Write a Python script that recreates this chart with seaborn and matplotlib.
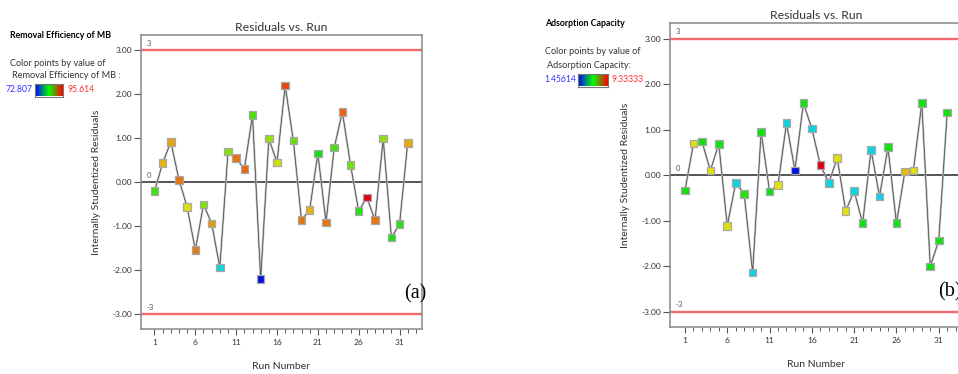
import matplotlib
matplotlib.use('Agg')
import matplotlib.pyplot as plt
from matplotlib.colors import LinearSegmentedColormap
from matplotlib.ticker import FixedLocator, FormatStrFormatter
import seaborn as sns
import numpy as np
import pandas as pd

sns.set_theme(style='white')
plt.rcParams['font.family'] = ['Lato', 'DejaVu Sans']

runs = list(range(1, 33))

# panel (a): removal efficiency of MB
resid_a = [-0.20, 0.44, 0.92, 0.06, -0.56, -1.54, -0.50, -0.93, -1.93, 0.70,
           0.55, 0.30, 1.53, -2.20, 1.00, 0.45, 2.20, 0.95, -0.86, -0.62,
           0.66, -0.91, 0.79, 1.60, 0.40, -0.65, -0.34, -0.86, 1.00, -1.25,
           -0.95, 0.90]
resp_a = [85.35, 91.05, 91.51, 92.65, 89.46, 92.42, 87.18, 91.74, 78.96, 87.40,
          92.65, 92.88, 85.58, 72.807, 87.86, 89.23, 93.79, 86.49, 92.65, 91.05,
          84.21, 92.65, 85.81, 93.11, 86.72, 84.89, 95.614, 92.65, 87.63, 84.44,
          84.89, 91.28]
range_a = (72.807, 95.614)
range_a_txt = ('72.807', '95.614')

# panel (b): adsorption capacity
resid_b = [-0.33, 0.70, 0.75, 0.11, 0.69, -1.11, -0.16, -0.41, -2.13, 0.96,
           -0.35, -0.21, 1.15, 0.11, 1.59, 1.03, 0.23, -0.16, 0.38, -0.78,
           -0.34, -1.05, 0.56, -0.46, 0.62, -1.05, 0.09, 0.11, 1.59, -2.00,
           -1.43, 1.38]
resp_b = [5.41, 7.28, 5.37, 7.30, 5.45, 7.22, 3.52, 5.60, 3.47, 5.39,
          5.33, 7.31, 3.55, 1.45614, 5.42, 3.50, 9.33333, 3.49, 7.26, 7.34,
          3.53, 5.38, 3.51, 3.46, 5.40, 5.36, 7.68, 7.29, 5.44, 5.35,
          5.41, 5.39]
range_b = (1.45614, 9.33333)
range_b_txt = ('1.45614', '9.33333')

point_cmap = LinearSegmentedColormap.from_list(
    'pts', ['#0010e0', '#10d0e8', '#10e010', '#e8e010', '#e00010'])
bar_cmap = LinearSegmentedColormap.from_list('bar', ['#0000ff', '#00ff00', '#ff0000'])

W, H = 958, 374
fig = plt.figure(figsize=(W / 100, H / 100), dpi=100)


def px(x, y):
    return x / W, 1 - y / H


def draw_panel(rect, resid, resp, vrange, xmin, tag, tag_xy):
    ax = fig.add_axes(rect)
    df = pd.DataFrame({'run': runs, 'resid': resid, 'resp': resp})
    ax.axhline(3, color='#f26b6b', lw=1.7, zorder=1)
    ax.axhline(-3, color='#f26b6b', lw=1.7, zorder=1)
    ax.axhline(0, color='#555555', lw=1.4, zorder=1)
    sns.lineplot(data=df, x='run', y='resid', color='#bdbdbd', lw=1.5, sort=False, ax=ax, zorder=2)
    sns.lineplot(data=df, x='run', y='resid', color='#3a3a3a', lw=0.45, sort=False, ax=ax, zorder=3)
    sns.scatterplot(data=df, x='run', y='resid', hue='resp', palette=point_cmap,
                    hue_norm=vrange, marker='s', s=30, edgecolor='#a8a8a8',
                    linewidth=0.9, legend=False, ax=ax, zorder=4)
    ax.set_xlim(xmin, 33.75)
    ax.set_ylim(-3.33, 3.35)
    ax.set_yticks([-3, -2, -1, 0, 1, 2, 3])
    ax.yaxis.set_major_formatter(FormatStrFormatter('%.2f'))
    ax.set_xticks([1, 6, 11, 16, 21, 26, 31])
    ax.xaxis.set_minor_locator(FixedLocator(range(1, 34)))
    ax.tick_params(axis='y', which='major', left=True, direction='out', length=5,
                   width=0.8, color='#555555', labelsize=6, labelcolor='#333333', pad=1.5)
    ax.tick_params(axis='x', which='major', bottom=True, direction='out', length=4.5,
                   width=0.8, color='#555555', labelsize=6, labelcolor='#333333', pad=2.5)
    ax.tick_params(axis='x', which='minor', bottom=True, direction='out', length=2.8,
                   width=0.7, color='#555555')
    for s in ax.spines.values():
        s.set_color('#888888')
        s.set_linewidth(1.1)
    ax.set_xlabel('Run Number', fontsize=7.5, color='#333333', labelpad=12)
    ax.set_ylabel('Internally Studentized Residuals', fontsize=7.5, color='#333333', labelpad=8)
    ax.set_title('Residuals vs. Run', fontsize=8.8, color='#333333', pad=3)
    for val, lab in [(3, '3'), (0, '0'), (-3, '-3')]:
        ax.text(xmin + 0.7, val + 0.08, lab, fontsize=5.5, color='#555555', va='bottom')
    fig.text(*px(*tag_xy), tag, fontsize=14.5, family='Liberation Serif',
             color='black', va='center')
    return ax


draw_panel([141 / W, 45 / H, 281 / W, 294 / H], resid_a, resp_a, range_a, -0.65, '(a)', (404, 294))
draw_panel([670 / W, 47 / H, 292 / W, 304 / H], resid_b, resp_b, range_b, -0.77, '(b)', (938, 292))


def legend_block(x0, y_title, y1, y2, y3, title, line1, line2, lo_txt, hi_txt, bar_x, bar_w, hi_x):
    fig.text(*px(x0, y_title), title, fontsize=6.3, fontweight='bold', color='black', va='center')
    fig.text(*px(x0, y1), line1, fontsize=6.6, color='#333333', va='center')
    fig.text(*px(x0 + 2, y2), line2, fontsize=6.6, color='#333333', va='center')
    fig.text(*px(bar_x - 2, y3), lo_txt, fontsize=6.2, color='#3333ff', va='center', ha='right')
    fig.text(*px(hi_x, y3), hi_txt, fontsize=6.2, color='#ff3333', va='center')
    bx = fig.add_axes([bar_x / W, 1 - (y3 + 6.5) / H, bar_w / W, 13 / H])
    bx.imshow(np.linspace(0, 1, 64)[None, :], cmap=bar_cmap, aspect='auto')
    bx.set_xticks([])
    bx.set_yticks([])
    for s in bx.spines.values():
        s.set_color('#777777')
        s.set_linewidth(0.8)


legend_block(10, 35, 63, 76, 90, 'Removal Efficiency of MB', 'Color points by value of',
             'Removal Efficiency of MB :', range_a_txt[0], range_a_txt[1], 35, 28, 67)
legend_block(545, 23, 52, 66, 80, 'Adsorption Capacity', 'Color points by value of',
             'Adsorption Capacity:', range_b_txt[0], range_b_txt[1], 578, 30, 611)

fig.savefig('out.png', dpi=100)
